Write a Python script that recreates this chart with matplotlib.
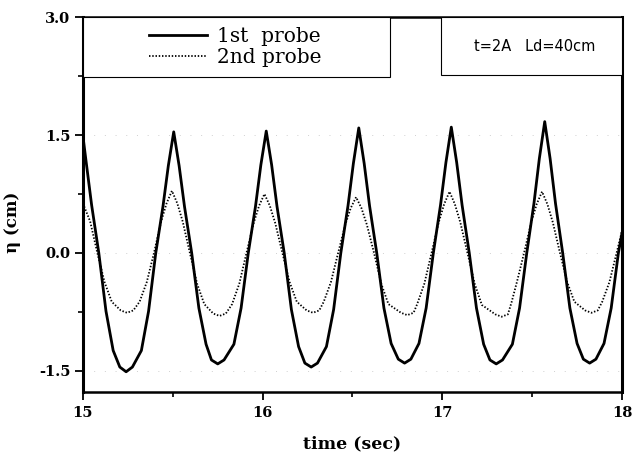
import numpy as np
import matplotlib
matplotlib.use('Agg')
import matplotlib.pyplot as plt
from matplotlib.patches import Rectangle
from matplotlib.ticker import MultipleLocator, FormatStrFormatter

plt.rcParams['axes.unicode_minus'] = False

#------------------------- DATA ---------------------------------------------------#
t_probe1 = [15.000, 15.018, 15.048, 15.088, 15.128, 15.168, 15.205, 15.240,
            15.275, 15.325, 15.365, 15.405, 15.445, 15.475, 15.505,
            15.535, 15.565, 15.605, 15.645, 15.685, 15.715, 15.750,
            15.785, 15.840, 15.880, 15.920, 15.960, 15.990, 16.020,
            16.050, 16.080, 16.120, 16.160, 16.200, 16.235, 16.270,
            16.305, 16.355, 16.395, 16.435, 16.475, 16.505, 16.535,
            16.565, 16.595, 16.635, 16.675, 16.715, 16.755, 16.790,
            16.825, 16.870, 16.910, 16.950, 16.990, 17.020, 17.050,
            17.080, 17.110, 17.150, 17.190, 17.230, 17.265, 17.300,
            17.335, 17.390, 17.430, 17.470, 17.510, 17.540, 17.570,
            17.600, 17.630, 17.670, 17.710, 17.750, 17.785, 17.820,
            17.855, 17.900, 17.940, 17.980, 18.000]
eta_probe1 = [1.48, 1.15, 0.61, 0.00, -0.74, -1.24, -1.45, -1.51,
              -1.45, -1.24, -0.74, 0.00, 0.59, 1.11, 1.54,
              1.11, 0.59, 0.00, -0.70, -1.16, -1.36, -1.41,
              -1.36, -1.16, -0.70, 0.00, 0.59, 1.12, 1.55,
              1.12, 0.59, 0.00, -0.72, -1.19, -1.40, -1.45,
              -1.40, -1.19, -0.72, 0.00, 0.60, 1.14, 1.59,
              1.14, 0.60, 0.00, -0.70, -1.15, -1.35, -1.40,
              -1.35, -1.15, -0.70, 0.00, 0.61, 1.15, 1.60,
              1.15, 0.61, 0.00, -0.70, -1.16, -1.36, -1.41,
              -1.36, -1.16, -0.70, 0.00, 0.63, 1.20, 1.67,
              1.20, 0.63, 0.00, -0.70, -1.15, -1.35, -1.40,
              -1.35, -1.15, -0.70, 0.00, 0.25]

t_probe2 = [15.000, 15.040, 15.080, 15.120, 15.160, 15.210, 15.245,
            15.280, 15.315, 15.355, 15.395, 15.435, 15.465, 15.495,
            15.525, 15.555, 15.595, 15.635, 15.675, 15.725, 15.760,
            15.795, 15.830, 15.870, 15.910, 15.950, 15.980, 16.010,
            16.040, 16.070, 16.110, 16.150, 16.190, 16.245, 16.280,
            16.315, 16.340, 16.380, 16.420, 16.460, 16.490, 16.520,
            16.550, 16.580, 16.620, 16.660, 16.700, 16.770, 16.805,
            16.840, 16.860, 16.900, 16.940, 16.980, 17.010, 17.040,
            17.070, 17.100, 17.140, 17.180, 17.220, 17.295, 17.330,
            17.365, 17.385, 17.415, 17.455, 17.495, 17.525, 17.555,
            17.585, 17.615, 17.655, 17.695, 17.735, 17.795, 17.830,
            17.865, 17.890, 17.930, 17.970, 18.000]
eta_probe2 = [0.63, 0.40, 0.00, -0.37, -0.62, -0.73, -0.76,
              -0.73, -0.62, -0.37, 0.00, 0.40, 0.63, 0.79,
              0.63, 0.40, 0.00, -0.39, -0.65, -0.77, -0.80,
              -0.77, -0.65, -0.39, 0.00, 0.38, 0.60, 0.75,
              0.60, 0.38, 0.00, -0.37, -0.62, -0.73, -0.76,
              -0.73, -0.62, -0.37, 0.00, 0.36, 0.57, 0.71,
              0.57, 0.36, 0.00, -0.39, -0.65, -0.76, -0.79,
              -0.76, -0.65, -0.39, 0.00, 0.39, 0.62, 0.78,
              0.62, 0.39, 0.00, -0.39, -0.66, -0.78, -0.81,
              -0.78, -0.63, -0.37, 0.00, 0.39, 0.62, 0.78,
              0.62, 0.39, 0.00, -0.37, -0.62, -0.73, -0.76,
              -0.73, -0.62, -0.37, 0.00, 0.28]

labels = ['1st  probe', '2nd probe']
note = 't=2A   Ld=40cm'

#------------------------- PLOT -----------------------------#
fig = plt.figure(figsize=(6.35, 4.55), dpi=100)
ax = fig.add_axes([0.1307, 0.1385, 0.8488, 0.8241])

ax.plot(t_probe1, eta_probe1, color='black', lw=2.0, ls='-', label=labels[0])
ax.plot(t_probe2, eta_probe2, color='black', lw=1.3, ls=(0, (0.8, 1.0)), label=labels[1])

ax.set_xlim(15, 18)
ax.set_ylim(-1.767, 3.0)
ax.xaxis.set_major_locator(MultipleLocator(1))
ax.xaxis.set_minor_locator(MultipleLocator(0.5))
ax.yaxis.set_major_locator(MultipleLocator(1.5))
ax.yaxis.set_minor_locator(MultipleLocator(0.75))
ax.yaxis.set_major_formatter(FormatStrFormatter('%.1f'))

ax.grid(visible=True, axis='y', which='major', color='#d0d0d0', lw=0.7, ls=(0, (1, 10)))

for lab in ax.get_xticklabels() + ax.get_yticklabels():
    lab.set_fontfamily('DejaVu Serif')
    lab.set_fontweight('bold')
    lab.set_fontsize(10.5)
ax.tick_params(which='major', direction='out', length=6, width=1.3, pad=3)
ax.tick_params(which='minor', direction='out', length=3.5, width=1.2)
ax.tick_params(axis='x', which='major', pad=4)

ax.spines['left'].set_linewidth(2.2)
ax.spines['right'].set_linewidth(2.2)
ax.spines['top'].set_linewidth(1.8)
ax.spines['bottom'].set_linewidth(1.8)

ax.set_xlabel('time (sec)', fontfamily='DejaVu Serif', fontweight='bold', fontsize=12.5)
ax.set_ylabel('η (cm)', fontfamily='DejaVu Serif', fontweight='bold', fontsize=12)
ax.xaxis.set_label_coords(0.5, -0.115)
ax.yaxis.set_label_coords(-0.115, 0.453)

# legend box and note box, both hanging from the top spine
ax.add_patch(Rectangle((0.0, 0.84), 0.570, 0.16, transform=ax.transAxes,
                       facecolor='white', edgecolor='black', lw=0.8, zorder=3))
ax.add_patch(Rectangle((0.664, 0.845), 0.336, 0.155, transform=ax.transAxes,
                       facecolor='white', edgecolor='black', lw=0.8, zorder=3))

leg = ax.legend(loc='center', bbox_to_anchor=(0.282, 0.92), frameon=False,
                prop=dict(family='DejaVu Serif', size=14.5), handlelength=2.9,
                handletextpad=0.5, labelspacing=0.1, borderpad=0.0)
leg.set_zorder(4)

ax.text(0.838, 0.922, note, transform=ax.transAxes, ha='center', va='center',
        fontfamily='DejaVu Sans', fontsize=10.5, zorder=5)

plt.savefig('out.png', dpi=100)
